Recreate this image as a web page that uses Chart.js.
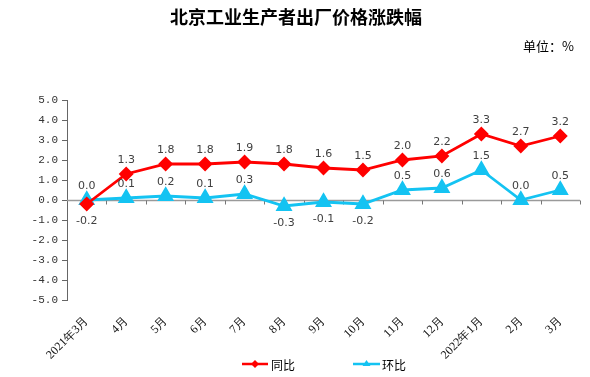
<!DOCTYPE html>
<html lang="zh">
<head>
  <meta charset="UTF-8">
  <title>北京工业生产者出厂价格涨跌幅</title>
  <script src="https://cdn.jsdelivr.net/npm/chart.js"></script>
  <style>
    html, body {
      margin: 0;
      padding: 0;
      background: #ffffff;
    }
    #wrap {
      position: relative;
      width: 590px;
      height: 377px;
    }
  </style>
</head>
<body>
  <div id="wrap">
    <canvas id="ppiChart" width="590" height="377"></canvas>
  </div>

  <script>
    // 数据
    const months = ["2021年3月", "4月", "5月", "6月", "7月", "8月", "9月", "10月", "11月", "12月", "2022年1月", "2月", "3月"];
    const yoy = [-0.2, 1.3, 1.8, 1.8, 1.9, 1.8, 1.6, 1.5, 2.0, 2.2, 3.3, 2.7, 3.2];
    const mom = [0.0, 0.1, 0.2, 0.1, 0.3, -0.3, -0.1, -0.2, 0.5, 0.6, 1.5, 0.0, 0.5];
    const yTicks = [-5, -4, -3, -2, -1, 0, 1, 2, 3, 4, 5];

    const RED = "#ff0000";
    const CYAN = "#14c3f2";
    const TXT = "#404040";

    // 标题、零线、数值标签、图例
    const decor = {
      id: "decor",
      afterDraw(chart) {
        const ctx = chart.ctx;
        ctx.save();
        // 标题
        ctx.fillStyle = "#000";
        ctx.font = "bold 18px 'Noto Sans CJK SC'";
        ctx.textAlign = "center";
        ctx.textBaseline = "middle";
        ctx.fillText("北京工业生产者出厂价格涨跌幅", 296, 17);
        ctx.font = "13px 'Noto Sans CJK SC'";
        ctx.textAlign = "right";
        ctx.fillText("单位：%", 574, 46);
        ctx.restore();
      },
      beforeDatasetsDraw(chart) {
        const ctx = chart.ctx;
        const area = chart.chartArea;
        const y0 = Math.round(chart.scales.y.getPixelForValue(0)) + 0.5;
        ctx.save();
        ctx.strokeStyle = "#9a9a9a";
        ctx.lineWidth = 1.5;
        ctx.beginPath();
        ctx.moveTo(area.left, y0);
        ctx.lineTo(area.right, y0);
        ctx.stroke();
        ctx.lineWidth = 1;
        ctx.strokeStyle = "#777";
        const step = (area.right - area.left) / months.length;
        for (let i = 1; i <= months.length; i++) {
          const px = Math.round(area.left + step * i) + 0.5;
          ctx.beginPath();
          ctx.moveTo(px, y0);
          ctx.lineTo(px, y0 + 4);
          ctx.stroke();
        }
        ctx.restore();
      },
      afterDatasetsDraw(chart) {
        const ctx = chart.ctx;
        ctx.save();
        ctx.font = "11px 'DejaVu Sans'";
        ctx.fillStyle = TXT;
        ctx.textAlign = "center";
        ctx.textBaseline = "middle";
        chart.data.datasets.forEach((ds, di) => {
          const meta = chart.getDatasetMeta(di);
          meta.data.forEach((pt, i) => {
            const v = ds.data[i];
            const dy = v < 0 ? 17 : -14;
            ctx.fillText(v.toFixed(1), pt.x, pt.y + dy);
          });
        });

        // 图例
        const ly = 364;
        ctx.lineWidth = 2.5;
        ctx.strokeStyle = RED;
        ctx.beginPath();
        ctx.moveTo(242, ly);
        ctx.lineTo(268, ly);
        ctx.stroke();
        ctx.fillStyle = RED;
        ctx.beginPath();
        ctx.moveTo(255, ly - 4);
        ctx.lineTo(259, ly);
        ctx.lineTo(255, ly + 4);
        ctx.lineTo(251, ly);
        ctx.closePath();
        ctx.fill();

        ctx.strokeStyle = CYAN;
        ctx.beginPath();
        ctx.moveTo(353, ly);
        ctx.lineTo(380, ly);
        ctx.stroke();
        ctx.fillStyle = CYAN;
        ctx.beginPath();
        ctx.moveTo(366.5, ly - 4);
        ctx.lineTo(370.5, ly + 2);
        ctx.lineTo(362.5, ly + 2);
        ctx.closePath();
        ctx.fill();

        ctx.fillStyle = "#000";
        ctx.font = "12px 'Noto Sans CJK SC'";
        ctx.textAlign = "left";
        ctx.fillText("同比", 271, ly + 1);
        ctx.fillText("环比", 382, ly + 1);
        ctx.restore();
      }
    };

    const ctx = document.getElementById("ppiChart").getContext("2d");
    new Chart(ctx, {
      type: "line",
      data: {
        labels: months,
        datasets: [
          {
            label: "同比",
            data: yoy,
            borderColor: RED,
            backgroundColor: RED,
            borderWidth: 2.8,
            pointStyle: "rectRot",
            pointRadius: 5.5,
            pointHoverRadius: 5.5,
            tension: 0
          },
          {
            label: "环比",
            data: mom,
            borderColor: CYAN,
            backgroundColor: CYAN,
            borderWidth: 2.8,
            pointStyle: "triangle",
            pointRadius: 7,
            pointHoverRadius: 7,
            tension: 0
          }
        ]
      },
      options: {
        responsive: false,
        animation: false,
        layout: { padding: { top: 100, left: 0, right: 10, bottom: 12 } },
        plugins: {
          legend: { display: false },
          tooltip: { enabled: false }
        },
        scales: {
          x: {
            offset: true,
            grid: { display: false },
            border: { display: false },
            ticks: {
              minRotation: 45,
              maxRotation: 45,
              autoSkip: false,
              padding: 6,
              color: "#111",
              font: { family: "'Liberation Serif'", size: 12 }
            },
            afterFit(scale) { scale.height = 65; }
          },
          y: {
            min: -5,
            max: 5,
            afterBuildTicks(scale) {
              scale.ticks = yTicks.map(v => ({ value: v }));
            },
            grid: {
              drawOnChartArea: false,
              drawTicks: true,
              tickLength: 5,
              color: "#666"
            },
            border: { display: true, color: "#666", width: 1 },
            ticks: {
              padding: 4,
              color: "#333",
              font: { family: "'Liberation Mono'", size: 11 },
              callback: v => v.toFixed(1)
            },
            afterFit(scale) { scale.width = 67; }
          }
        }
      },
      plugins: [decor]
    });
  </script>
</body>
</html>
